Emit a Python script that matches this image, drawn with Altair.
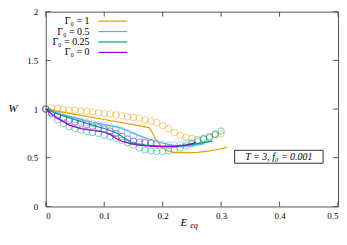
import altair as alt
import pandas as pd

series = ["Γ₀ = 1", "Γ₀ = 0.5", "Γ₀ = 0.25", "Γ₀ = 0"]
colors = ["#E69F00", "#56B4E9", "#009E73", "#9400D3"]

# open-circle series
c1_x = [0.00, 0.01, 0.02, 0.03, 0.04, 0.05, 0.06, 0.07, 0.08, 0.09, 0.10, 0.11, 0.12, 0.13, 0.14,
        0.15, 0.16, 0.17, 0.18, 0.19, 0.20, 0.21, 0.22, 0.23, 0.24, 0.25, 0.26, 0.27, 0.28, 0.29, 0.30]
c1_w = [1.00, 1.01, 1.01, 1.00, 0.99, 0.99, 0.98, 0.975, 0.97, 0.96, 0.955, 0.95, 0.94, 0.93, 0.92,
        0.915, 0.905, 0.89, 0.875, 0.86, 0.83, 0.80, 0.76, 0.73, 0.71, 0.70, 0.69, 0.70, 0.71, 0.73, 0.745]

c2_x = [0.00, 0.01, 0.02, 0.03, 0.04, 0.05, 0.06, 0.07, 0.08, 0.09, 0.10, 0.11, 0.12, 0.13, 0.14,
        0.15, 0.16, 0.17, 0.18, 0.19, 0.20, 0.21, 0.22, 0.23, 0.24, 0.25, 0.26, 0.27, 0.28, 0.29]
c2_w = [1.00, 0.965, 0.94, 0.92, 0.90, 0.89, 0.875, 0.865, 0.85, 0.84, 0.83, 0.815, 0.80, 0.78, 0.76,
        0.73, 0.695, 0.67, 0.655, 0.645, 0.635, 0.63, 0.63, 0.635, 0.645, 0.66, 0.68, 0.70, 0.72, 0.745]

c3_x = [0.00, 0.01, 0.02, 0.03, 0.04, 0.05, 0.06, 0.07, 0.08, 0.09, 0.10, 0.11, 0.12, 0.13, 0.14,
        0.15, 0.16, 0.17, 0.18, 0.19, 0.20, 0.21, 0.22, 0.23, 0.24, 0.25, 0.26, 0.27, 0.28, 0.29, 0.30]
c3_w = [1.00, 0.95, 0.89, 0.85, 0.82, 0.80, 0.785, 0.77, 0.76, 0.75, 0.73, 0.715, 0.70, 0.68, 0.655,
        0.63, 0.60, 0.58, 0.57, 0.565, 0.565, 0.57, 0.58, 0.60, 0.62, 0.645, 0.665, 0.69, 0.71, 0.74, 0.775]

c4_x = [0.00, 0.01, 0.02, 0.03, 0.04, 0.05, 0.06, 0.07, 0.08, 0.09, 0.10, 0.11, 0.12, 0.13, 0.14,
        0.15, 0.16, 0.17, 0.18]
c4_w = [1.00, 0.96, 0.93, 0.905, 0.885, 0.87, 0.855, 0.84, 0.825, 0.81, 0.795, 0.775, 0.75, 0.72, 0.69,
        0.67, 0.66, 0.655, 0.65]

# line series
l1_x = [0.0, 0.05, 0.10, 0.15, 0.177, 0.182, 0.187, 0.193, 0.20, 0.21, 0.22, 0.24, 0.26, 0.28, 0.295, 0.31]
l1_w = [1.0, 0.946, 0.893, 0.84, 0.81, 0.76, 0.70, 0.65, 0.60, 0.57, 0.555, 0.55, 0.555, 0.57, 0.585, 0.61]

l2_x = [0.0, 0.02, 0.05, 0.08, 0.10, 0.126, 0.154, 0.177, 0.20, 0.22, 0.24, 0.26, 0.272]
l2_w = [1.0, 0.96, 0.91, 0.865, 0.84, 0.81, 0.74, 0.69, 0.65, 0.625, 0.62, 0.632, 0.645]

l3_x = [0.0, 0.02, 0.05, 0.08, 0.10, 0.12, 0.13, 0.14, 0.15, 0.17, 0.20, 0.23, 0.26, 0.285]
l3_w = [1.0, 0.95, 0.89, 0.835, 0.80, 0.76, 0.72, 0.68, 0.65, 0.63, 0.62, 0.625, 0.645, 0.67]

l4_x = [0.0, 0.01, 0.02, 0.04, 0.06, 0.08, 0.10, 0.11, 0.12, 0.13, 0.145, 0.16, 0.19, 0.22, 0.24, 0.257]
l4_w = [1.0, 0.95, 0.905, 0.835, 0.80, 0.78, 0.765, 0.74, 0.70, 0.67, 0.645, 0.63, 0.615, 0.615, 0.63, 0.655]

x_ticks = [0, 0.1, 0.2, 0.3, 0.4, 0.5]
y_ticks = [0, 0.5, 1, 1.5, 2]

annotation = "T = 3,  f₀ = 0.001"

W_PLOT, H_PLOT = 294, 196
FONT = "Liberation Serif"
LEG_ROWS = [9.5, 20, 30.5, 41]


def frame(xs, ws, name):
    return pd.DataFrame({"x": xs, "W": ws, "s": name, "i": range(len(xs))})


circles = pd.concat([frame(c1_x, c1_w, series[0]), frame(c2_x, c2_w, series[1]),
                     frame(c3_x, c3_w, series[2]), frame(c4_x, c4_w, series[3])])

xs = alt.Scale(domain=[0, 0.5], nice=False)
ys = alt.Scale(domain=[0, 2], nice=False)
cs = alt.Scale(domain=series, range=colors)

X = alt.X("x:Q", scale=xs, axis=alt.Axis(values=x_ticks, format="~g", title=None, grid=False,
                                          domain=False, ticks=False, labelPadding=5,
                                          labelFont=FONT, labelFontSize=9, labelColor="#000"))
Y = alt.Y("W:Q", scale=ys, axis=alt.Axis(values=y_ticks, format="~g", title=None, grid=False,
                                          domain=False, ticks=False, labelPadding=8,
                                          labelFont=FONT, labelFontSize=9, labelColor="#000"))

circ_layer = alt.Chart(circles).mark_point(shape="circle", filled=False, size=42, strokeWidth=1,
                                           opacity=0.5).encode(
    x=X, y=Y, color=alt.Color("s:N", scale=cs, legend=None))

line_layers = []
for name, df in zip(series, [frame(l1_x, l1_w, series[0]), frame(l2_x, l2_w, series[1]),
                             frame(l3_x, l3_w, series[2]), frame(l4_x, l4_w, series[3])]):
    line_layers.append(alt.Chart(df).mark_line(strokeWidth=1.2).encode(
        x=alt.X("x:Q", scale=xs), y=alt.Y("W:Q", scale=ys),
        color=alt.Color("s:N", scale=cs, legend=None), order="i:Q"))

# inward ticks on all four sides
xt = pd.DataFrame({"x": x_ticks})
yt = pd.DataFrame({"W": y_ticks})
tick_color = "#555"
xt_bot = alt.Chart(xt).mark_rule(color=tick_color).encode(
    x=alt.X("x:Q", scale=xs), y=alt.value(H_PLOT), y2=alt.value(H_PLOT - 5))
xt_top = alt.Chart(xt).mark_rule(color=tick_color).encode(
    x=alt.X("x:Q", scale=xs), y=alt.value(0), y2=alt.value(5))
yt_left = alt.Chart(yt).mark_rule(color=tick_color).encode(
    y=alt.Y("W:Q", scale=ys), x=alt.value(0), x2=alt.value(5))
yt_right = alt.Chart(yt).mark_rule(color=tick_color).encode(
    y=alt.Y("W:Q", scale=ys), x=alt.value(W_PLOT), x2=alt.value(W_PLOT - 5))

# legend (gnuplot style: label left, sample right)
legend_layers = []
for name, col, ry in zip(series, colors, LEG_ROWS):
    d = pd.DataFrame({"s": [name]})
    legend_layers.append(alt.Chart(d).mark_text(align="right", baseline="middle", font=FONT,
                                                fontSize=10, color="#000").encode(
        text="s:N", x=alt.value(44), y=alt.value(ry)))
    legend_layers.append(alt.Chart(d).mark_rule(strokeWidth=1.2, color=col).encode(
        x=alt.value(53), x2=alt.value(82), y=alt.value(ry)))

# annotation box
ann = pd.DataFrame({"t": [annotation]})
box = alt.Chart(ann).mark_rect(fill="white", stroke="#333", strokeWidth=1).encode(
    x=alt.value(190), x2=alt.value(279), y=alt.value(139.5), y2=alt.value(152.5))
box_text = alt.Chart(ann).mark_text(font=FONT, fontSize=10, fontStyle="italic", color="#000",
                                    baseline="middle", align="center").encode(
    text="t:N", x=alt.value(234.5), y=alt.value(146))

# axis titles
wt = alt.Chart(pd.DataFrame({"t": ["W"]})).mark_text(font=FONT, fontSize=11, fontStyle="italic",
                                                       color="#000").encode(
    text="t:N", x=alt.value(-33), y=alt.value(98))
et = alt.Chart(pd.DataFrame({"t": ["E"]})).mark_text(font=FONT, fontSize=11, fontStyle="italic",
                                                       color="#000").encode(
    text="t:N", x=alt.value(139), y=alt.value(213))
eq = alt.Chart(pd.DataFrame({"t": ["eq"]})).mark_text(font=FONT, fontSize=8, fontStyle="italic",
                                                        color="#000").encode(
    text="t:N", x=alt.value(149), y=alt.value(216))

chart = alt.layer(circ_layer, *line_layers, xt_bot, xt_top, yt_left, yt_right,
                  *legend_layers, box, box_text, wt, et, eq).properties(
    width=W_PLOT, height=H_PLOT, autosize=alt.AutoSizeParams(type="none"),
    padding={"left": 38, "top": 3, "right": 1, "bottom": 25}
).configure_view(stroke="#555", strokeWidth=1)

chart.save("out.html", embed_options={"renderer": "svg", "actions": False})
